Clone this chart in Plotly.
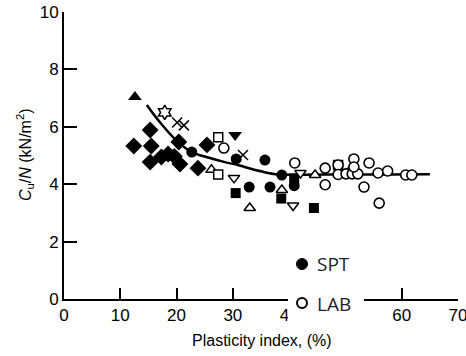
import plotly.graph_objects as go

# ---- data ----
curve_pi = [14.7, 17.0, 20.0, 22.7, 25.6, 28.6, 30.9, 32.1, 35.2, 38.0, 42.0, 50.0, 58.0, 65.0]
curve_val = [6.76, 6.17, 5.52, 5.12, 4.93, 4.77, 4.67, 4.60, 4.44, 4.34, 4.33, 4.34, 4.34, 4.35]

tri_up_f_pi = [12.6]
tri_up_f_val = [7.04]

hexa_pi = [17.9]
hexa_val = [6.50]

x_pi = [20.1, 21.3, 31.8]
x_val = [6.15, 6.05, 5.02]

diamond_pi = [15.3, 12.4, 15.5, 15.3, 17.3, 18.5, 19.6, 20.6, 20.4, 23.8, 25.4]
diamond_val = [5.89, 5.33, 5.33, 4.77, 4.95, 5.05, 4.97, 4.70, 5.47, 4.56, 5.37]

circle_f_pi = [22.7, 30.6, 35.7, 38.7, 32.9, 36.6, 40.9]
circle_f_val = [5.12, 4.88, 4.84, 4.32, 3.90, 3.90, 3.95]

tri_dn_f_pi = [30.4]
tri_dn_f_val = [5.71]

square_f_pi = [30.5, 38.6, 44.4, 40.9]
square_f_val = [3.69, 3.50, 3.17, 4.20]

tri_dn_o_pi = [30.2, 42.0, 40.7]
tri_dn_o_val = [4.22, 4.39, 3.26]

tri_up_o_pi = [26.2, 33.0, 38.7, 44.6, 51.3]
tri_up_o_val = [4.50, 3.17, 3.80, 4.32, 4.60]

square_o_pi = [27.4, 27.4, 48.7]
square_o_val = [5.64, 4.34, 4.67]

circle_o_pi = [28.4, 41.0, 46.4, 46.4, 48.7, 48.7, 50.1, 51.2, 52.2, 51.5, 51.5,
               54.2, 53.3, 55.8, 57.5, 56.0, 60.7, 61.8]
circle_o_val = [5.26, 4.74, 4.56, 3.98, 4.67, 4.34, 4.36, 4.36, 4.36, 4.88, 4.60,
                4.74, 3.90, 4.39, 4.46, 3.34, 4.32, 4.32]

x_ticks = [0, 10, 20, 30, 40, 50, 60, 70]
x_ticktext = ["0", "10", "20", "30", "40", "", "60", "70"]  # 50 is hidden behind the legend
y_ticks = [0, 2, 4, 6, 8, 10]

# ---- figure ----
W, H = 466, 356
ML, MR, MT, MB = 64, 8, 12, 57
PW, PH = W - ML - MR, H - MT - MB


def px(x):
    return (x - ML) / PW


def py(y):
    return (MT + PH - y) / PH


fig = go.Figure()

fig.add_trace(go.Scatter(x=curve_pi, y=curve_val, mode="lines",
                         line=dict(color="black", width=2.5, shape="spline", smoothing=1.0),
                         hoverinfo="skip", showlegend=False))


def add_markers(xs, ys, symbol, size, fill="black", lw=0):
    fig.add_trace(go.Scatter(
        x=xs, y=ys, mode="markers", showlegend=False, cliponaxis=False,
        marker=dict(symbol=symbol, size=size, color=fill,
                    line=dict(color="black", width=lw))))


add_markers(diamond_pi, diamond_val, "diamond", 13)
add_markers(tri_up_f_pi, tri_up_f_val, "triangle-up", 12)
add_markers(hexa_pi, hexa_val, "hexagram-open", 11, fill="black", lw=1.5)
add_markers(x_pi, x_val, "x-thin-open", 10, fill="black", lw=1.5)
add_markers(circle_f_pi, circle_f_val, "circle", 11)
add_markers(tri_dn_f_pi, tri_dn_f_val, "triangle-down", 12)
add_markers(square_f_pi, square_f_val, "square", 10)
add_markers(tri_dn_o_pi, tri_dn_o_val, "triangle-down", 10, fill="white", lw=1.5)
add_markers(tri_up_o_pi, tri_up_o_val, "triangle-up", 10, fill="white", lw=1.5)
add_markers(square_o_pi, square_o_val, "square", 9, fill="white", lw=1.5)
add_markers(circle_o_pi, circle_o_val, "circle", 10, fill="white", lw=1.6)

tickfont = dict(family="Liberation Sans, Arial, sans-serif", size=17, color="black")

fig.update_layout(
    width=W, height=H,
    margin=dict(l=ML, r=MR, t=MT, b=MB, autoexpand=False),
    paper_bgcolor="white", plot_bgcolor="white",
    xaxis=dict(range=[0, 70], tickvals=x_ticks, ticktext=x_ticktext, ticks="inside",
               ticklen=11, tickwidth=2, ticklabeloverflow="allow", automargin=False,
               tickcolor="black", showline=True, linewidth=2, linecolor="black",
               showgrid=False, zeroline=False, tickfont=tickfont, fixedrange=True),
    yaxis=dict(range=[0, 10], tickvals=y_ticks, ticks="inside", ticklen=13, tickwidth=2,
               tickcolor="black", showline=True, linewidth=2, linecolor="black",
               ticklabeloverflow="allow", automargin=False,
               showgrid=False, zeroline=False, tickfont=tickfont, fixedrange=True),
    shapes=[
        dict(type="rect", xref="paper", yref="paper", layer="above",
             x0=px(288), x1=px(364), y0=py(287), y1=py(326),
             fillcolor="white", line=dict(width=0)),
        dict(type="circle", xref="paper", yref="paper", layer="above",
             xsizemode="pixel", ysizemode="pixel", xanchor=px(302), yanchor=py(264),
             x0=-5.5, x1=5.5, y0=-5.5, y1=5.5, fillcolor="black", line=dict(color="black", width=1)),
        dict(type="circle", xref="paper", yref="paper", layer="above",
             xsizemode="pixel", ysizemode="pixel", xanchor=px(302), yanchor=py(303),
             x0=-5, x1=5, y0=-5, y1=5, fillcolor="white", line=dict(color="black", width=2)),
    ],
    annotations=[
        dict(text="SPT", xref="paper", yref="paper", x=px(315), y=py(264),
             xanchor="left", yanchor="middle", showarrow=False,
             font=dict(family="Open Sans, sans-serif", size=19, color="#222")),
        dict(text="LAB", xref="paper", yref="paper", x=px(315), y=py(304),
             xanchor="left", yanchor="middle", showarrow=False,
             font=dict(family="Open Sans, sans-serif", size=19, color="#222")),
        dict(text="Plasticity index, (%)", xref="paper", yref="paper", x=px(262), y=py(340),
             xanchor="center", yanchor="middle", showarrow=False,
             font=dict(family="Liberation Sans, Arial, sans-serif", size=16, color="black")),
        dict(text="<i>C</i><sub>u</sub>/<i>N</i> (kN/m<sup>2</sup>)", xref="paper", yref="paper",
             x=px(25), y=py(155), xanchor="center", yanchor="middle", textangle=-90,
             showarrow=False,
             font=dict(family="Liberation Sans, Arial, sans-serif", size=16, color="black")),
    ],
)

fig.write_html("out.html")
